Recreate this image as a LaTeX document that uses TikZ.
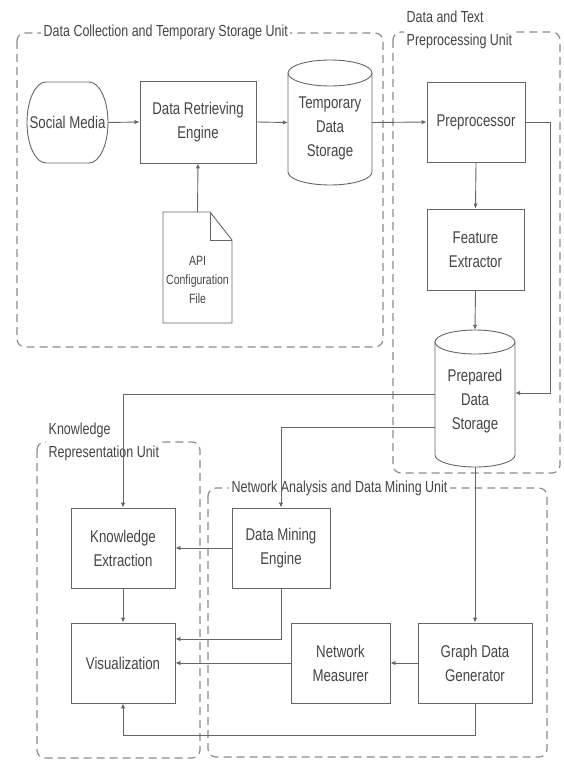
\documentclass[tikz,border=0pt]{standalone}
\usepackage{fontspec}
\setmainfont[FakeStretch=0.78]{Liberation Sans}
\usetikzlibrary{arrows.meta}

\definecolor{ink}{HTML}{454545}
\definecolor{edgegray}{HTML}{666666}
\definecolor{grpgray}{HTML}{8C8C8C}

\newcommand\boxfont{\fontsize{17}{24}\selectfont}
\newcommand\smallboxfont{\fontsize{13.5}{19}\selectfont}
\newcommand\unitfont{\fontsize{16}{23}\selectfont}

\tikzset{
  x=1pt, y=1pt,
  stepbox/.style={draw=edgegray, line width=0.9pt, text=ink, align=center,
    inner sep=0pt, font=\boxfont},
  plain/.style={draw=none, text=ink, align=center, inner sep=0pt, font=\boxfont},
  outline/.style={draw=edgegray, line width=0.9pt},
  link/.style={draw=edgegray, line width=0.9pt, -{Latex[length=5pt,width=4.5pt]}},
  group/.style={draw=grpgray, line width=1.2pt, dash pattern=on 8pt off 5pt,
    rounded corners=8pt},
  unittitle/.style={fill=white, text=ink, font=\unitfont, inner sep=2.5pt,
    align=left, anchor=west},
}

\begin{document}
\begin{tikzpicture}
\useasboundingbox (0,0) rectangle (564,-762);

% ---- unit frames ----
\draw[group] (17,-33) rectangle (383,-347);
\draw[group] (393,-32) rectangle (560,-473);
\draw[group] (37,-442) rectangle (200,-758);
\draw[group] (208,-488) rectangle (547,-757);

\node[unittitle] (u1) at (41,-32) {Data Collection and Temporary Storage Unit};
\node[unittitle] (u2) at (404,-30) {Data and Text\\Preprocessing Unit};
\node[unittitle] (u3) at (46,-441.5) {Knowledge\\Representation Unit};
\node[unittitle] (u4) at (229,-488) {Network Analysis and Data Mining Unit};

% ---- social media (terminator with elliptic sides) ----
\node[plain, minimum width=81, minimum height=81] (sm) at (67.5,-122.5) {Social Media};
\draw[outline] (46,-82) -- (89,-82)
  arc[start angle=90, end angle=-90, x radius=19, y radius=40.5]
  -- (46,-163)
  arc[start angle=270, end angle=90, x radius=19, y radius=40.5] -- cycle;

\node[stepbox, minimum width=116, minimum height=82] (dre) at (198,-122) {Data Retrieving\\Engine};

% ---- temporary data storage (cylinder) ----
\node[plain, minimum width=84, minimum height=125] (tds) at (330,-122.5) {};
\draw[outline] (288,-73) -- (288,-172)
  arc[start angle=180, end angle=360, x radius=42, y radius=13]
  -- (372,-73)
  arc[start angle=0, end angle=180, x radius=42, y radius=13] -- cycle;
\draw[outline] (288,-73) arc[start angle=180, end angle=360, x radius=42, y radius=13];
\node[plain] (tdstext) at (330,-128) {Temporary\\Data\\Storage};

% ---- API configuration file (document with folded corner) ----
\node[plain, font=\smallboxfont, minimum width=69, minimum height=111] (api) at (197.5,-267.5) {};
\draw[outline] (163,-212) -- (210,-212) -- (232,-240) -- (232,-323) -- (163,-323) -- cycle;
\draw[outline] (210,-212) -- (210,-240) -- (232,-240);
\node[plain, font=\smallboxfont] (apitext) at (197.5,-280) {API\\Configuration\\File};

% ---- preprocessing ----
\node[stepbox, minimum width=98, minimum height=80] (prep) at (476,-122) {Preprocessor};
\node[stepbox, minimum width=97, minimum height=81] (fe) at (475.5,-249.5) {Feature\\Extractor};

% ---- prepared data storage (cylinder) ----
\node[plain, minimum width=80, minimum height=137] (pds) at (475,-398.5) {};
\draw[outline] (435,-342) -- (435,-455)
  arc[start angle=180, end angle=360, x radius=40, y radius=12]
  -- (515,-342)
  arc[start angle=0, end angle=180, x radius=40, y radius=12] -- cycle;
\draw[outline] (435,-342) arc[start angle=180, end angle=360, x radius=40, y radius=12];
\node[plain] (pdstext) at (475,-401) {Prepared\\Data\\Storage};

% ---- knowledge representation ----
\node[stepbox, minimum width=104, minimum height=80] (ke) at (123,-548) {Knowledge\\Extraction};
\node[stepbox, minimum width=104, minimum height=80] (vis) at (123,-663) {Visualization};

% ---- network analysis and data mining ----
\node[stepbox, minimum width=98, minimum height=80] (dme) at (281,-548) {Data Mining\\Engine};
\node[stepbox, minimum width=99, minimum height=80] (nm) at (340.5,-663) {Network\\Measurer};
\node[stepbox, minimum width=114, minimum height=80] (gdg) at (475,-663) {Graph Data\\Generator};

% ---- connectors ----
\draw[link] (sm.east) -- (dre.west);
\draw[link] (dre.east) -- (tds.west);
\draw[link] (api.north) -- (dre.south);
\draw[link] (tds.east) -- (prep.west);
\draw[link] (prep.south) -- (fe.north);
\draw[link] (fe.south) -- (pds.north);
\draw[link] (prep.east) -- ++(25,0) |- ([yshift=5.5pt]pds.east);
\draw[link] ([yshift=4.5pt]pds.west) -| (ke.north);
\draw[link] ([yshift=-28.5pt]pds.west) -| (dme.north);
\draw[link] (dme.west) -- (ke.east);
\draw[link] (ke.south) -- (vis.north);
\draw[link] (dme.south) |- ([yshift=24pt]vis.east);
\draw[link] (nm.west) -- (vis.east);
\draw[link] (gdg.west) -- (nm.east);
\draw[link] (pds.south) -- (gdg.north);
\draw[link] (gdg.south) -- ++(0,-32) -| (vis.south);
\end{tikzpicture}
\end{document}
